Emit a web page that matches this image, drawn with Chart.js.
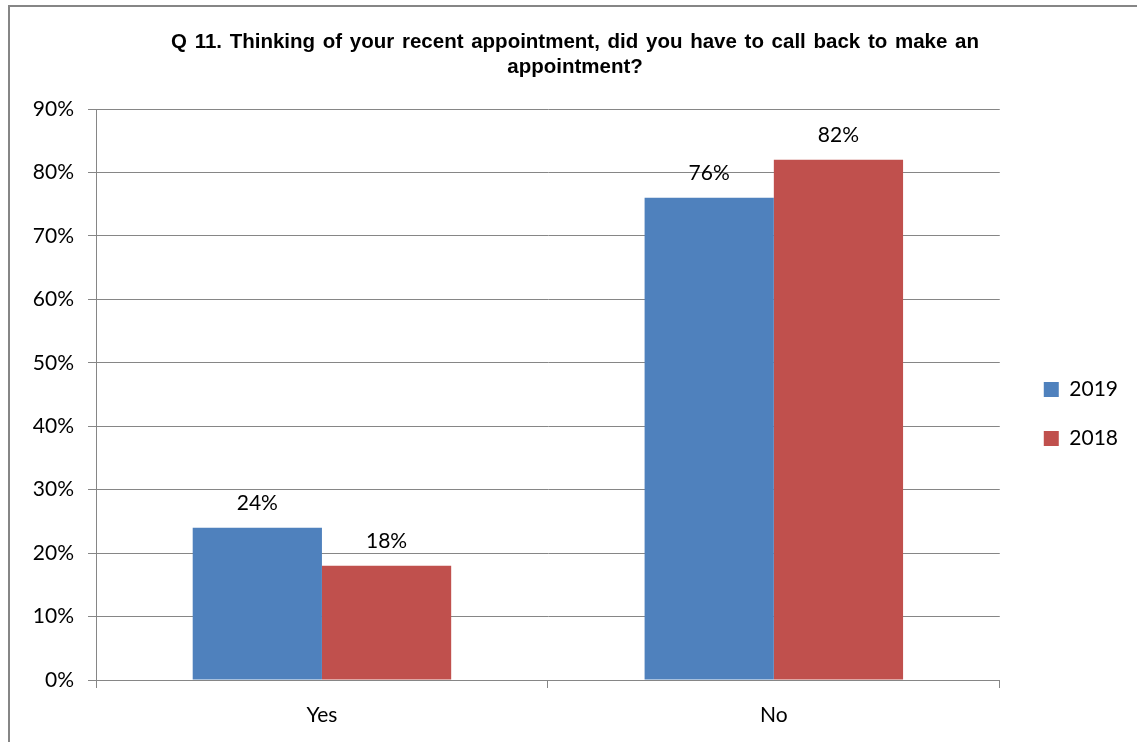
<!DOCTYPE html>
<html>
<head>
<meta charset="utf-8">
<script src="https://cdn.jsdelivr.net/npm/chart.js@4/dist/chart.umd.min.js"></script>
<style>
  html, body { margin: 0; padding: 0; background: #fff; }
  #wrap { width: 1137px; height: 742px; }
</style>
</head>
<body>
<div id="wrap"><canvas id="chart" width="1137" height="742"></canvas></div>
<script>
const categories = ['Yes', 'No'];
const series2019 = [24, 76];
const series2018 = [18, 82];
const seriesNames = ['2019', '2018'];
const titleLines = ['Q 11. Thinking of your recent appointment, did you have to call back to make an', 'appointment?'];

const tickFont = { family: 'Lato', size: 21 };

// value labels above each bar
const barLabels = {
  id: 'barLabels',
  afterDatasetsDraw(chart) {
    const ctx = chart.ctx;
    ctx.save();
    ctx.font = '21px Lato';
    ctx.fillStyle = '#000';
    ctx.textAlign = 'center';
    ctx.textBaseline = 'middle';
    chart.data.datasets.forEach((ds, i) => {
      chart.getDatasetMeta(i).data.forEach((bar, j) => {
        ctx.fillText(ds.data[j] + '%', bar.x, bar.y - 25);
      });
    });
    ctx.restore();
  }
};

// outer frame, legend and title nudges
const frame = {
  id: 'frame',
  afterLayout(chart) {
    chart.legend.left += 16;
    chart.legend.right += 16;
    chart.legend.top += 43;
    chart.legend.bottom += 43;
    chart.titleBlock.left += 12;
    chart.titleBlock.right += 12;
  },
  beforeDraw(chart) {
    const ctx = chart.ctx;
    ctx.save();
    ctx.fillStyle = '#fff';
    ctx.fillRect(0, 0, chart.width, chart.height);
    ctx.strokeStyle = '#868686';
    ctx.lineWidth = 2;
    ctx.strokeRect(9, 6, 1300, 900);
    ctx.restore();
    // only the title has spaces; widen them a bit like the original
    ctx.wordSpacing = '2px';
  }
};

new Chart(document.getElementById('chart'), {
  type: 'bar',
  data: {
    labels: categories,
    datasets: [
      { label: seriesNames[0], data: series2019, backgroundColor: '#4F81BD' },
      { label: seriesNames[1], data: series2018, backgroundColor: '#C0504D' }
    ]
  },
  options: {
    responsive: false,
    animation: false,
    layout: { padding: { left: 14, right: 25, top: 0, bottom: 0 } },
    datasets: { bar: { barPercentage: 1, categoryPercentage: 0.572 } },
    scales: {
      x: {
        grid: { display: true, drawOnChartArea: false, drawTicks: true, tickLength: 8, color: '#868686', offset: true },
        border: { color: '#868686' },
        ticks: { font: tickFont, color: '#000', padding: 15 },
        afterFit(scale) { scale.height = 62; }
      },
      y: {
        min: 0,
        max: 90,
        ticks: { stepSize: 10, font: tickFont, color: '#000', padding: 14, callback: v => v + '%' },
        grid: { color: '#868686', tickLength: 8 },
        border: { color: '#868686' },
        afterFit(scale) { scale.width = 82; }
      }
    },
    plugins: {
      title: {
        display: true,
        text: titleLines,
        color: '#000',
        font: { family: 'Liberation Sans', size: 20.5, weight: 'bold', lineHeight: 1.22 },
        padding: { top: 30, bottom: 29 }
      },
      legend: {
        position: 'right',
        labels: { font: tickFont, color: '#000', boxWidth: 15, boxHeight: 15, padding: 28 }
      },
      tooltip: { enabled: false }
    }
  },
  plugins: [barLabels, frame]
});
</script>
</body>
</html>
